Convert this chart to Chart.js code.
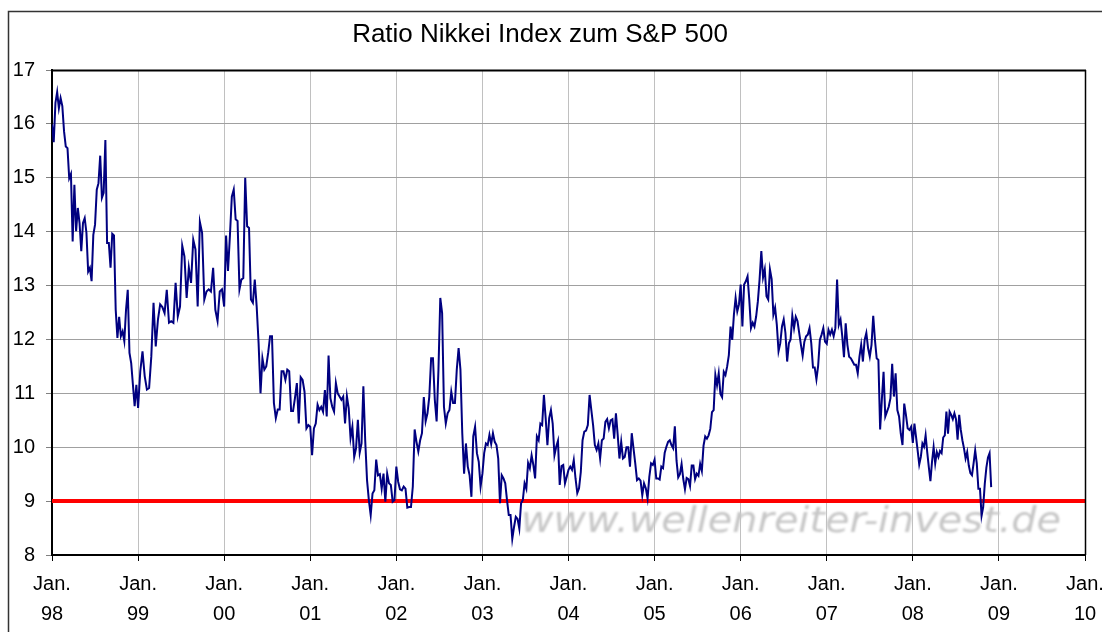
<!DOCTYPE html>
<html>
<head>
<meta charset="utf-8">
<script src="https://cdn.jsdelivr.net/npm/chart.js@4.4.1/dist/chart.umd.min.js"></script>
<style>
  html, body { margin: 0; padding: 0; background: #ffffff; }
  canvas { display: block; }
</style>
</head>
<body>
<canvas id="c" width="1102" height="632"></canvas>
<script>
// ---- Data (weekly ratio Nikkei / S&P 500) ----
const chartTitle = 'Ratio Nikkei Index zum S&P 500';
const watermark = 'www.wellenreiter-invest.de';
const tickYearLabels = ['98','99','00','01','02','03','04','05','06','07','08','09','10'];
const firstYear = 1998;
const lastYear = 2010;
const yMin = 8;
const yMax = 17;
const threshold = 9;
const lastObservation = 2008.91; // date of the final weekly value (end of Nov 2008)

const values1998 = [15.99, 15.66, 16.39, 16.59, 16.29, 16.48, 16.33, 15.86, 15.58, 15.55, 14.99, 15.07, 13.82, 14.87, 14.01, 14.44, 14.16, 13.64, 14.16, 14.25, 13.98, 13.26, 13.33, 13.08, 13.94, 14.13, 14.78, 14.90, 15.41, 14.63, 14.72, 15.70, 13.79, 13.79, 13.33, 13.96, 13.93, 12.55, 12.03, 12.42, 12.06, 12.15, 11.97, 12.55, 12.92, 11.75, 11.56, 11.16, 10.76, 11.16];
const values1999 = [10.73, 11.41, 11.78, 11.32, 11.07, 11.10, 11.69, 12.68, 11.87, 12.37, 12.65, 12.60, 12.49, 12.92, 12.31, 12.34, 12.31, 13.05, 12.43, 12.61, 13.74, 13.54, 12.77, 13.33, 13.05, 13.85, 13.67, 12.61, 14.18, 13.98, 12.74, 12.89, 12.93, 12.89, 13.33, 12.55, 12.34, 12.89, 12.93];
const values2000 = [12.61, 13.93, 13.27, 13.92, 14.65, 14.78, 14.23, 14.20, 12.93, 13.11, 13.14, 15.00, 14.10, 14.07, 12.74, 12.68, 13.11, 12.61, 11.93, 11.00, 11.65, 11.44, 11.50, 11.75, 12.06, 12.06, 10.82, 10.54, 10.70, 10.70, 11.41, 11.41, 11.25, 11.44, 11.41, 10.67, 10.67, 10.91, 11.19, 10.44, 11.30, 11.25, 11.03, 10.35, 10.41];
const values2001 = [10.38, 9.85, 10.35, 10.44, 10.79, 10.69, 10.75, 10.66, 11.06, 10.57, 11.70, 10.91, 10.75, 10.66, 11.19, 11.00, 10.94, 10.88, 10.94, 10.44, 10.95, 10.72, 10.17, 10.38, 9.82, 9.98, 10.51, 9.90, 10.07, 11.13, 10.13, 9.39, 9.02, 8.74, 9.14, 9.20, 9.77, 9.48, 9.50, 9.23, 9.51, 8.99, 9.51, 9.33, 9.30, 8.99, 9.02];
const values2002 = [9.64, 9.36, 9.22, 9.20, 9.27, 9.23, 8.88, 8.89, 8.89, 9.27, 10.33, 10.10, 9.92, 10.13, 10.26, 10.93, 10.48, 10.63, 10.94, 11.65, 11.65, 10.88, 10.48, 11.44, 12.77, 12.49, 10.75, 10.44, 10.63, 10.69, 11.03, 10.82, 10.82, 11.44, 11.84, 11.44, 10.26, 9.51, 10.07, 9.64, 9.48, 9.08, 10.20, 10.38, 9.89, 9.73, 9.27];
const values2003 = [9.51, 9.89, 10.07, 10.04, 10.23, 10.06, 10.26, 10.10, 10.04, 9.79, 8.96, 9.48, 9.42, 9.33, 9.02, 8.74, 8.74, 8.30, 8.52, 8.71, 8.67, 8.49, 8.96, 9.02, 9.33, 9.23, 9.71, 9.61, 9.85, 9.67, 9.42, 10.20, 10.13, 10.44, 10.41, 10.97, 10.54, 10.04, 10.54, 10.69, 10.44, 9.85, 10.01, 10.12, 9.30, 9.65, 9.67, 9.33, 9.45];
const values2004 = [9.58, 9.64, 9.58, 9.76, 9.42, 9.15, 9.24, 9.54, 10.13, 10.29, 10.31, 10.41, 10.97, 10.69, 10.41, 10.04, 9.95, 10.07, 9.79, 10.13, 10.16, 10.47, 10.52, 10.35, 10.50, 10.52, 10.16, 10.63, 10.23, 9.79, 10.10, 9.79, 9.82, 10.00, 10.00, 9.64, 10.26, 9.98, 9.70, 9.39, 9.42, 9.38, 9.11, 9.33, 9.24, 9.05, 9.45, 9.70, 9.67];
const values2005 = [9.77, 9.42, 9.42, 9.40, 9.64, 9.61, 9.90, 10.01, 10.10, 10.13, 10.04, 9.98, 10.39, 9.75, 9.44, 9.50, 9.69, 9.41, 9.22, 9.43, 9.41, 9.28, 9.66, 9.66, 9.41, 9.51, 9.47, 9.69, 9.56, 10.03, 10.20, 10.16, 10.22, 10.34, 10.65, 10.69, 11.34, 11.15, 11.37, 10.99, 10.93, 11.40, 11.34, 11.50, 11.71, 12.24, 11.99, 12.46, 12.77, 12.52, 12.65];
const values2006 = [13.02, 12.24, 13.02, 13.08, 13.17, 12.74, 12.21, 12.31, 12.24, 12.43, 12.71, 13.12, 13.64, 13.15, 13.30, 12.80, 12.74, 13.30, 13.12, 12.46, 12.59, 12.27, 11.78, 11.93, 12.24, 12.37, 12.12, 11.59, 11.93, 12.00, 12.44, 12.21, 12.42, 12.34, 12.12, 11.90, 11.70, 11.96, 12.06, 12.09, 12.21, 11.93, 11.48, 11.48, 11.26, 11.51, 11.99, 12.09, 12.21, 11.96];
const values2007 = [11.92, 12.18, 12.09, 12.18, 12.06, 12.21, 13.11, 12.27, 12.37, 12.06, 11.67, 12.30, 11.90, 11.68, 11.65, 11.59, 11.53, 11.53, 11.37, 11.68, 11.90, 11.59, 11.99, 12.12, 11.84, 11.68, 11.90, 12.44, 11.99, 11.65, 11.62, 10.33, 10.88, 11.40, 10.57, 10.66, 10.75, 10.91, 11.55, 10.94, 11.37, 10.69, 10.57, 10.25, 10.04, 10.81, 10.60, 10.35, 10.32, 10.38];
const values2008 = [10.08, 10.44, 10.19, 9.94, 9.68, 9.82, 10.07, 10.01, 10.22, 9.91, 9.63, 9.37, 9.73, 10.00, 9.70, 9.91, 9.82, 9.93, 9.89, 10.18, 10.22, 10.66, 10.25, 10.66, 10.60, 10.52, 10.63, 10.52, 10.14, 10.60, 10.32, 10.13, 9.98, 9.79, 9.91, 9.66, 9.52, 9.48, 9.70, 9.94, 9.70, 9.23, 9.23, 8.73, 8.89, 9.32, 9.62, 9.81, 9.89, 9.26];

const yearlyValues = [values1998, values1999, values2000, values2001, values2002, values2003,
                      values2004, values2005, values2006, values2007, values2008];

// build the series: each year's weekly values are spread over that year
const series = [];
yearlyValues.forEach((vals, k) => {
  const year = firstYear + k;
  const isLast = k === yearlyValues.length - 1;
  vals.forEach((v, i) => {
    const t = isLast ? year + (i / (vals.length - 1)) * (lastObservation - year) : year + i / vals.length;
    series.push({ x: t, y: v });
  });
});

Chart.defaults.font.family = '"Liberation Sans", Arial, sans-serif';
Chart.defaults.color = '#000000';

const decorPlugin = {
  id: 'decor',
  beforeDraw(chart) {
    const ctx = chart.ctx;
    ctx.save();
    ctx.fillStyle = '#ffffff';
    ctx.fillRect(0, 0, chart.width, chart.height);
    // outer frame
    ctx.strokeStyle = '#333333';
    ctx.lineWidth = 1.5;
    ctx.strokeRect(8.5, 11.5, 1300, 800);
    ctx.restore();
  },
  beforeDatasetsDraw(chart) {
    const ctx = chart.ctx;
    const a = chart.chartArea;
    ctx.save();
    ctx.beginPath();
    ctx.rect(a.left, a.top, a.right - a.left, a.bottom - a.top);
    ctx.clip();
    ctx.font = 'oblique 36px "DejaVu Sans"';
    const w = ctx.measureText(watermark).width;
    ctx.translate(521, 532);
    ctx.scale(540 / w, 1);
    ctx.filter = 'blur(1.2px)';
    ctx.fillStyle = '#c6c6c6';
    ctx.textBaseline = 'alphabetic';
    ctx.textAlign = 'left';
    ctx.fillText(watermark, 0, 0);
    ctx.restore();
  },
  afterDatasetsDraw(chart) {
    const ctx = chart.ctx;
    const a = chart.chartArea;
    ctx.save();
    ctx.strokeStyle = '#000000';
    ctx.lineWidth = 2;
    ctx.beginPath();
    ctx.moveTo(a.left - 1, a.top + 0.5);
    ctx.lineTo(a.right + 1, a.top + 0.5);
    ctx.stroke();
    ctx.lineWidth = 1.5;
    ctx.beginPath();
    ctx.moveTo(a.right + 0.5, a.top);
    ctx.lineTo(a.right + 0.5, a.bottom);
    ctx.stroke();
    ctx.restore();
  },
  afterDraw(chart) {
    const ctx = chart.ctx;
    ctx.save();
    ctx.fillStyle = '#000000';
    ctx.font = '26px "Liberation Sans", Arial, sans-serif';
    ctx.textAlign = 'center';
    ctx.textBaseline = 'alphabetic';
    ctx.fillText(chartTitle, 540, 42);
    ctx.restore();
  }
};

new Chart(document.getElementById('c'), {
  type: 'line',
  data: {
    datasets: [
      {
        data: series,
        borderColor: '#000080',
        borderWidth: 2,
        pointRadius: 0,
        tension: 0,
        fill: false
      },
      {
        data: [{ x: firstYear, y: threshold }, { x: lastYear, y: threshold }],
        borderColor: '#ff0000',
        borderWidth: 4,
        pointRadius: 0,
        tension: 0,
        fill: false
      }
    ]
  },
  options: {
    responsive: false,
    animation: false,
    events: [],
    layout: { padding: { top: 70, right: 17, bottom: 0, left: 0 } },
    plugins: {
      legend: { display: false },
      title: { display: false },
      tooltip: { enabled: false }
    },
    scales: {
      x: {
        type: 'linear',
        min: firstYear,
        max: lastYear,
        afterFit(scale) { scale.height = 77; scale.paddingLeft = 0; scale.paddingRight = 0; },
        ticks: {
          stepSize: 1,
          autoSkip: false,
          maxRotation: 0,
          minRotation: 0,
          padding: 8,
          color: '#000000',
          font: { size: 20, lineHeight: 1.5 },
          callback: (v) => ['Jan.', tickYearLabels[Math.round(v) - firstYear]]
        },
        grid: {
          color: '#c0c0c0',
          lineWidth: 1,
          tickColor: '#000000',
          tickLength: 6
        },
        border: { color: '#000000', width: 2 }
      },
      y: {
        min: yMin,
        max: yMax,
        afterFit(scale) { scale.width = 52; },
        ticks: {
          stepSize: 1,
          padding: 11,
          color: '#000000',
          font: { size: 20 }
        },
        grid: {
          color: '#a0a0a0',
          lineWidth: 1,
          tickColor: '#808080',
          tickLength: 6
        },
        border: { color: '#000000', width: 2 }
      }
    }
  },
  plugins: [decorPlugin]
});
</script>
</body>
</html>
